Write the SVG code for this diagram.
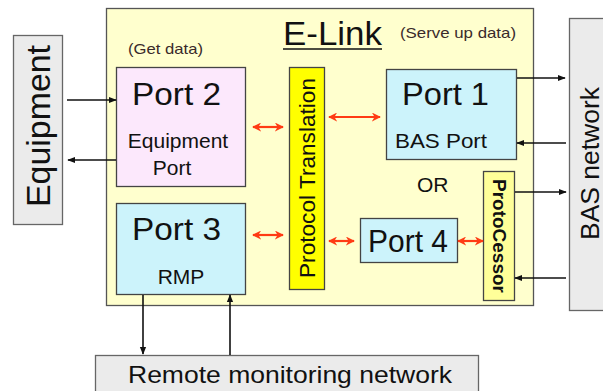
<svg xmlns="http://www.w3.org/2000/svg" width="603" height="391" viewBox="0 0 603 391">
<defs>
<marker id="ab" viewBox="0 0 10 10" refX="9" refY="5" markerWidth="8" markerHeight="8" markerUnits="userSpaceOnUse" orient="auto-start-reverse"><path d="M0,1 L10,5 L0,9 Z" fill="#111"/></marker>
<marker id="ar" viewBox="0 0 10 10" refX="9" refY="5" markerWidth="9" markerHeight="9" markerUnits="userSpaceOnUse" orient="auto-start-reverse"><path d="M0,0 L10,5 L0,10 L3,5 Z" fill="#FF3B14"/></marker>
<style>
text{font-family:"Liberation Sans",Arial,sans-serif;fill:#111}
.ext{fill:#EBEBEB;stroke:#666;stroke-width:1.3}
.port{stroke:#444;stroke-width:1.3}
.cyan{fill:#CCF3FB}
.pink{fill:#FCE8FC}
.blk{stroke:#111;stroke-width:1.6;fill:none}
.red{stroke:#FF3B14;stroke-width:2.2;fill:none}
.small{font-size:15px;fill:#3a2a2a}
</style>
</defs>
<rect width="603" height="391" fill="#fff"/>
<g id="elink">
<rect x="106.5" y="8.5" width="427" height="297" fill="#FFFFCE" stroke="#555" stroke-width="1.3"/>
<text x="283" y="45" font-size="34" textLength="99" lengthAdjust="spacingAndGlyphs">E-Link</text>
<line x1="283" y1="49" x2="382" y2="49" stroke="#111" stroke-width="1.5"/>
<text class="small" x="400" y="38" textLength="116" lengthAdjust="spacingAndGlyphs">(Serve up data)</text>
<text class="small" x="128" y="54" textLength="75" lengthAdjust="spacingAndGlyphs">(Get data)</text>
<text x="417" y="192" font-size="21">OR</text>
</g>
<g id="equipment">
<rect class="ext" x="13.5" y="35.5" width="49" height="189"/>
<text transform="translate(50,207) rotate(-90)" font-size="34" textLength="162" lengthAdjust="spacingAndGlyphs">Equipment</text>
</g>
<g id="bas-network">
<rect class="ext" x="569.5" y="18.5" width="40" height="292"/>
<text transform="translate(599,240) rotate(-90)" font-size="25" textLength="153" lengthAdjust="spacingAndGlyphs">BAS network</text>
</g>
<g id="remote-network">
<rect class="ext" x="95.5" y="355.5" width="383" height="40"/>
<text x="128" y="383" font-size="24" textLength="324" lengthAdjust="spacingAndGlyphs">Remote monitoring network</text>
</g>
<g id="port2">
<rect class="port pink" x="116.5" y="67.5" width="129" height="119"/>
<text x="132" y="105" font-size="32" textLength="89" lengthAdjust="spacingAndGlyphs">Port 2</text>
<text x="178" y="148" font-size="21" text-anchor="middle">Equipment</text>
<text x="172" y="175" font-size="21" text-anchor="middle">Port</text>
</g>
<g id="port3">
<rect class="port cyan" x="116.5" y="203.5" width="129" height="91"/>
<text x="132" y="240" font-size="32" textLength="89" lengthAdjust="spacingAndGlyphs">Port 3</text>
<text x="181" y="284" font-size="21" text-anchor="middle">RMP</text>
</g>
<g id="protocol-translation">
<rect class="port" x="289.5" y="67.5" width="35" height="222" fill="#FFFF00"/>
<text transform="translate(315,278) rotate(-90)" font-size="22" textLength="200" lengthAdjust="spacingAndGlyphs">Protocol Translation</text>
</g>
<g id="port1">
<rect class="port cyan" x="386.5" y="69.5" width="130" height="90"/>
<text x="402" y="105" font-size="32" textLength="87" lengthAdjust="spacingAndGlyphs">Port 1</text>
<text x="395" y="148" font-size="21" textLength="92" lengthAdjust="spacingAndGlyphs">BAS Port</text>
</g>
<g id="port4">
<rect class="port cyan" x="360.5" y="218.5" width="97" height="44"/>
<text x="368" y="252" font-size="31" textLength="80" lengthAdjust="spacingAndGlyphs">Port 4</text>
</g>
<g id="protocessor">
<rect class="port" x="483.5" y="171.5" width="31" height="129" fill="#FFFF99"/>
<text transform="translate(493,179) rotate(90)" font-size="18" font-weight="bold" textLength="114" lengthAdjust="spacingAndGlyphs">ProtoCessor</text>
</g>
<g id="connectors">
<line class="blk" x1="67" y1="100" x2="116" y2="100" marker-end="url(#ab)"/>
<line class="blk" x1="116" y1="160" x2="68" y2="160" marker-end="url(#ab)"/>
<line class="blk" x1="517" y1="78" x2="565" y2="78" marker-end="url(#ab)"/>
<line class="blk" x1="566" y1="143" x2="517" y2="143" marker-end="url(#ab)"/>
<line class="blk" x1="515" y1="192" x2="566" y2="192" marker-end="url(#ab)"/>
<line class="blk" x1="566" y1="278" x2="515" y2="278" marker-end="url(#ab)"/>
<line class="blk" x1="143" y1="295" x2="143" y2="354" marker-end="url(#ab)"/>
<line class="blk" x1="230" y1="355" x2="230" y2="295" marker-end="url(#ab)"/>
<line class="red" x1="253" y1="127" x2="283" y2="127" marker-start="url(#ar)" marker-end="url(#ar)"/>
<line class="red" x1="253" y1="235" x2="283" y2="235" marker-start="url(#ar)" marker-end="url(#ar)"/>
<line class="red" x1="329" y1="117" x2="380" y2="117" marker-start="url(#ar)" marker-end="url(#ar)"/>
<line class="red" x1="329" y1="241" x2="354" y2="241" marker-start="url(#ar)" marker-end="url(#ar)"/>
<line class="red" x1="458" y1="241" x2="483" y2="241" marker-start="url(#ar)" marker-end="url(#ar)"/>
</g>
</svg>
